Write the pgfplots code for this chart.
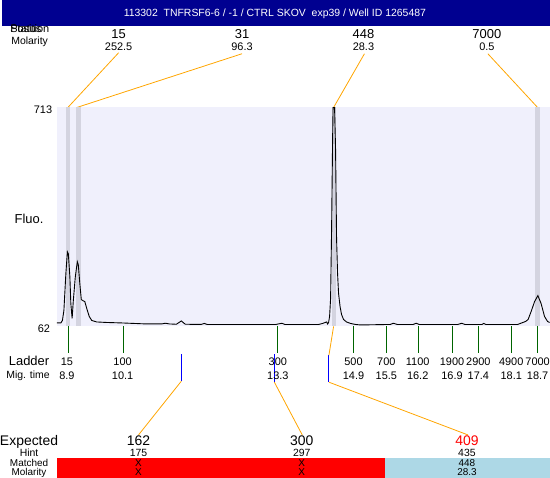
\documentclass[border=0pt]{standalone}
\usepackage{pgfplots}
\pgfplotsset{compat=1.18}
\usepackage{fontspec}
\setmainfont{Liberation Sans}
\definecolor{hdr}{RGB}{0,0,144}
\definecolor{lav}{RGB}{240,240,252}
\definecolor{band}{RGB}{212,212,224}
\definecolor{org}{RGB}{255,165,0}
\definecolor{dgreen}{RGB}{0,100,0}
\definecolor{lblue}{RGB}{173,216,230}
\newcommand{\fs}[1]{\fontsize{#1}{#1}\selectfont}
\tikzset{lbl/.style={anchor=base, inner sep=0pt}}
\newcommand{\T}[4]{\node[lbl, font=\fs{#1}] at (axis cs:#2,#3) {#4};}
\begin{document}
\begin{tikzpicture}
% ---------- canvas axis in pixel units (y downward) ----------
\begin{axis}[at={(0pt,0pt)}, anchor=south west, width=550pt, height=480pt,
  scale only axis, xmin=0, xmax=550, ymin=0, ymax=480, y dir=reverse,
  hide axis, clip=false]
% header band
\addplot[fill=hdr, draw=none] coordinates {(0,0)(550,0)(550,26)(0,26)} -- cycle;
% bottom result bars
\addplot[fill=red, draw=none] coordinates {(55,460)(385,460)(385,480)(55,480)} -- cycle;
\addplot[fill=lblue, draw=none] coordinates {(385,460)(550,460)(550,480)(385,480)} -- cycle;
% orange connectors (top)
\addplot[org, line width=0.8pt] coordinates {(117,53)(66,108)};
\addplot[org, line width=0.8pt] coordinates {(241,54)(75,108)};
\addplot[org, line width=0.8pt] coordinates {(364,54)(333,108)};
\addplot[org, line width=0.8pt] coordinates {(488,54)(538,108)};
% ladder ticks
\addplot[dgreen, line width=0.9pt, unbounded coords=jump] coordinates {
 (66.5,328)(66.5,355)(66.5,nan)
 (121.5,328)(121.5,355)(121.5,nan)
 (277,328)(277,355)(277,nan)
 (353.3,328)(353.3,355)(353.3,nan)
 (386.5,328)(386.5,355)(386.5,nan)
 (418.3,328)(418.3,355)(418.3,nan)
 (452.3,328)(452.3,355)(452.3,nan)
 (478.3,328)(478.3,355)(478.3,nan)
 (511.5,328)(511.5,355)(511.5,nan)
 (537.7,328)(537.7,355)};
% blue expected markers
\addplot[blue, line width=0.9pt, unbounded coords=jump] coordinates {
 (180,356)(180,383)(180,nan)
 (273.5,356)(273.5,384)(273.5,nan)
 (328.3,357)(328.3,384)};
% orange connectors (bottom)
\addplot[org, line width=0.8pt] coordinates {(333,328)(328.3,357)};
\addplot[org, line width=0.8pt] coordinates {(180,383)(137,437)};
\addplot[org, line width=0.8pt] coordinates {(273.5,384)(301.5,437)};
\addplot[org, line width=0.8pt] coordinates {(328.3,384)(468,437)};
% ---- texts ----
\node[lbl, font=\fs{10.5}, text=white] at (axis cs:274,16.7) {113302~~TNFRSF6-6 / -1 / CTRL SKOV~~exp39 / Well ID 1265487};
\node[lbl, anchor=base west, font=\fs{11}] at (axis cs:8,32.9) {Position};
\node[lbl, anchor=base west, font=\fs{11}] at (axis cs:8,32.9) {Status};
\node[lbl, anchor=base west, font=\fs{10.5}] at (axis cs:9,44.7) {Molarity};
\T{13}{117}{38.6}{15}   \T{11}{117}{50.9}{252.5}
\T{13}{241}{38.6}{31}   \T{11}{241}{50.9}{96.3}
\T{13}{363}{38.6}{448}  \T{11}{363}{50.9}{28.3}
\T{13}{487}{38.6}{7000} \T{11}{487}{50.9}{0.5}
\T{11}{41}{113.9}{713}
\T{11}{42}{333.9}{62}
\T{13}{27}{224.6}{Fluo.}
\T{13}{27}{367.6}{Ladder}
\T{10.5}{26}{380.7}{Mig. time}
\T{11}{65}{366.9}{15}     \T{11}{65}{380.9}{8.9}
\T{11}{121}{366.9}{100}   \T{11}{121}{380.9}{10.1}
\T{11}{277}{366.9}{300}   \T{11}{277}{380.9}{13.3}
\T{11}{353}{366.9}{500}   \T{11}{353}{380.9}{14.9}
\T{11}{386}{366.9}{700}   \T{11}{386}{380.9}{15.5}
\T{11}{417.5}{366.9}{1100} \T{11}{417.5}{380.9}{16.2}
\T{11}{452}{366.9}{1900}  \T{11}{452}{380.9}{16.9}
\T{11}{478.5}{366.9}{2900} \T{11}{478.5}{380.9}{17.4}
\T{11}{511.5}{366.9}{4900} \T{11}{511.5}{380.9}{18.1}
\T{11}{538}{366.9}{7000}  \T{11}{538}{380.9}{18.7}
\T{14}{27}{448}{Expected}
\T{10.5}{27}{458.7}{Hint}
\T{10}{27}{468.5}{Matched}
\T{10}{27}{478}{Molarity}
\T{14}{137}{448}{162}
\T{14}{301}{448}{300}
\node[lbl, font=\fs{14}, text=red] at (axis cs:467,448) {409};
\T{10.5}{137}{458.7}{175} \T{10}{137}{468.5}{X} \T{10}{137}{478}{X}
\T{10.5}{301}{458.7}{297} \T{10}{301}{468.5}{X} \T{10}{301}{478}{X}
\T{10.5}{467}{458.7}{435} \T{10}{467}{468.5}{448} \T{10}{467}{478}{28.3}
\end{axis}
% ---------- electropherogram: migration time vs fluorescence ----------
\begin{axis}[at={(55pt,152pt)}, anchor=south west, width=495pt, height=220pt,
  scale only axis, xmin=8.671, xmax=18.971, ymin=62, ymax=713,
  hide axis, clip=false]
\addplot[fill=lav, draw=none] coordinates {(8.671,62)(18.971,62)(18.971,713)(8.671,713)} -- cycle;
% peak bands
\addplot[fill=band, draw=none] coordinates {(8.858,62)(8.942,62)(8.942,713)(8.858,713)} -- cycle;
\addplot[fill=band, draw=none] coordinates {(9.066,62)(9.170,62)(9.170,713)(9.066,713)} -- cycle;
\addplot[fill=band, draw=none] coordinates {(14.420,62)(14.503,62)(14.503,713)(14.420,713)} -- cycle;
\addplot[fill=band, draw=none] coordinates {(18.658,62)(18.762,62)(18.762,713)(18.658,713)} -- cycle;
% trace
\addplot[black, line width=0.9pt, sharp plot] coordinates {
(8.671,72.4)(8.754,72.4)(8.786,79.8)(8.817,109.3)(8.858,218.8)(8.890,283.9)(8.910,278.0)
(8.942,209.9)(8.962,130.1)(8.989,85.7)(9.014,138.9)(9.056,209.9)(9.098,254.3)(9.118,245.5)
(9.150,189.2)(9.181,141.9)(9.212,138.9)(9.254,136.0)(9.295,115.3)(9.347,91.6)(9.399,79.8)
(9.503,75.3)(9.711,73.8)(10.024,72.4)(10.544,69.4)(10.856,69.4)(10.939,71.5)(11.022,69.4)
(11.168,68.5)(11.272,78.3)(11.355,68.5)(11.688,67.9)(11.751,70.9)(11.813,67.9)(13.249,67.9)
(13.374,71.5)(13.436,67.9)(14.143,67.9)(14.226,70.9)(14.310,75.3)(14.330,69.4)(14.351,73.8)
(14.372,91.6)(14.393,144.9)(14.414,352.0)(14.435,618.3)(14.445,713)(14.476,713)(14.497,588.7)
(14.518,322.4)(14.539,218.8)(14.560,159.6)(14.591,121.2)(14.622,97.5)(14.664,82.7)(14.726,75.3)
(14.809,70.9)(14.913,67.9)(15.017,66.4)(15.642,67.9)(15.704,71.5)(15.787,67.9)(16.120,67.9)
(16.182,71.5)(16.245,67.9)(17.056,67.9)(17.133,71.5)(17.202,67.9)(17.556,67.9)(17.597,70.9)
(17.639,67.9)(18.305,67.9)(18.388,72.4)(18.471,76.8)(18.523,82.7)(18.586,106.4)(18.658,136.0)
(18.727,153.7)(18.794,130.1)(18.866,91.6)(18.929,76.8)(18.971,73.8)};
\end{axis}
\end{tikzpicture}
\end{document}
